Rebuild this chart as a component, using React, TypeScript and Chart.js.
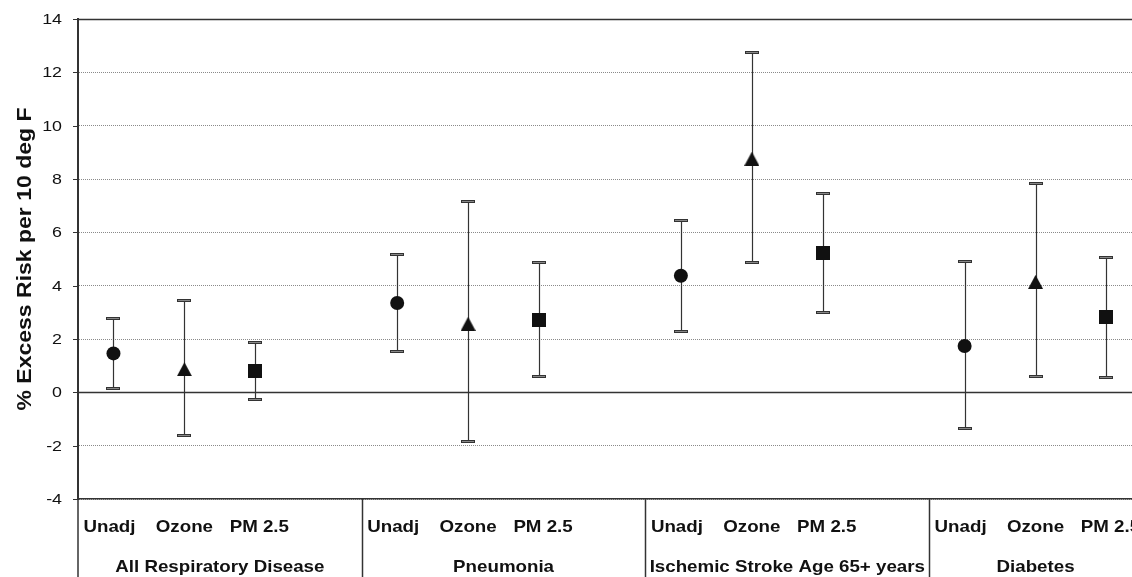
import React, { useEffect, useRef } from 'react';
import { Chart, registerables } from 'chart.js';

Chart.register(...registerables);

// ---------- data ----------
const categories = ['All Respiratory Disease', 'Pneumonia', 'Ischemic Stroke Age 65+ years', 'Diabetes'];
const adjustments = ['Unadj', 'Ozone', 'PM 2.5'];

const unadjEst = [1.46, 3.35, 4.37, 1.74];
const unadjLow = [0.15, 1.54, 2.31, -1.33];
const unadjHigh = [2.79, 5.2, 6.46, 4.93];

const ozoneEst = [0.87, 2.57, 8.76, 4.14];
const ozoneLow = [-1.59, -1.82, 4.88, 0.6];
const ozoneHigh = [3.47, 7.19, 12.75, 7.86];

const pmEst = [0.8, 2.73, 5.24, 2.81];
const pmLow = [-0.25, 0.6, 3.01, 0.57];
const pmHigh = [1.88, 4.89, 7.47, 5.09];

const yTicks = [-4, -2, 0, 2, 4, 6, 8, 10, 12, 14];
const yTitle = '% Excess Risk per 10 deg F';

const estimates = [unadjEst, ozoneEst, pmEst];
const lows = [unadjLow, ozoneLow, pmLow];
const highs = [unadjHigh, ozoneHigh, pmHigh];

// ---------- layout / style ----------
const W = 1132;
const H = 577;
const SLOTS_PER_GROUP = 4;
const AXIS_SLOTS = 15;
const VISIBLE_SLOTS = 14.86;
const FONT = '"Liberation Sans", Arial, Helvetica, sans-serif';
const TEXT_STRETCH = 1.15;
const INK = '#111';
const LINE = '#333';
const labelOffsets = [-4, 0, 4];

const slotX = (g: number, s: number) => g * SLOTS_PER_GROUP + s + 0.5;

function makeTriangle(): HTMLCanvasElement {
  const c = document.createElement('canvas');
  c.width = 15;
  c.height = 14;
  const x = c.getContext('2d')!;
  x.fillStyle = INK;
  x.beginPath();
  x.moveTo(7.5, 0);
  x.lineTo(15, 14);
  x.lineTo(0, 14);
  x.closePath();
  x.fill();
  return c;
}

function makeSquare(): HTMLCanvasElement {
  const c = document.createElement('canvas');
  c.width = 14;
  c.height = 14;
  const x = c.getContext('2d')!;
  x.fillStyle = INK;
  x.fillRect(0, 0, 14, 14);
  return c;
}

function drawText(
  ctx: CanvasRenderingContext2D,
  text: string,
  x: number,
  y: number,
  font: string,
  align: CanvasTextAlign,
  baseline: CanvasTextBaseline,
  rotate = false
) {
  ctx.save();
  ctx.translate(x, y);
  if (rotate) ctx.rotate(-Math.PI / 2);
  ctx.scale(TEXT_STRETCH, 1);
  ctx.font = font;
  ctx.fillStyle = INK;
  ctx.textAlign = align;
  ctx.textBaseline = baseline;
  ctx.fillText(text, 0, 0);
  ctx.restore();
}

const decorPlugin = {
  id: 'decor',
  beforeDatasetsDraw(chart: any) {
    const { ctx, chartArea, scales } = chart;
    const xs = scales.x;
    const ys = scales.y;
    ctx.save();
    ctx.strokeStyle = LINE;
    ctx.lineWidth = 1.5;
    [0, 14].forEach((v) => {
      const y = Math.round(ys.getPixelForValue(v)) + 0.5;
      ctx.beginPath();
      ctx.moveTo(chartArea.left, y);
      ctx.lineTo(chartArea.right, y);
      ctx.stroke();
    });
    for (let s = 0; s < adjustments.length; s++) {
      for (let g = 0; g < categories.length; g++) {
        const x = Math.round(xs.getPixelForValue(slotX(g, s))) + 0.5;
        const yl = ys.getPixelForValue(lows[s][g]);
        const yh = ys.getPixelForValue(highs[s][g]);
        ctx.strokeStyle = LINE;
        ctx.lineWidth = 1.2;
        ctx.beginPath();
        ctx.moveTo(x, yh);
        ctx.lineTo(x, yl);
        ctx.stroke();
        [yl, yh].forEach((yy) => {
          const r = Math.round(yy);
          ctx.fillStyle = '#333';
          ctx.fillRect(x - 7.5, r - 1, 14, 3);
          ctx.fillStyle = '#888';
          ctx.fillRect(x - 6.5, r, 12, 1);
        });
      }
    }
    ctx.restore();
  },
  afterDraw(chart: any) {
    const { ctx, chartArea, scales, height } = chart;
    const xs = scales.x;
    const ys = scales.y;
    ctx.save();
    ctx.strokeStyle = LINE;
    ctx.lineWidth = 1;
    ys.ticks.forEach((t: any) => {
      const y = Math.round(ys.getPixelForValue(t.value)) + 0.5;
      ctx.beginPath();
      ctx.moveTo(chartArea.left - 5, y);
      ctx.lineTo(chartArea.left, y);
      ctx.stroke();
      drawText(ctx, String(t.value), chartArea.left - 16, y, `15.5px ${FONT}`, 'right', 'middle');
    });
    ctx.strokeStyle = LINE;
    ctx.lineWidth = 1.5;
    for (let g = 0; g < categories.length; g++) {
      const x = Math.round(xs.getPixelForValue(g * SLOTS_PER_GROUP)) + (g === 0 ? 0 : 0.5);
      ctx.beginPath();
      ctx.moveTo(x, chartArea.bottom);
      ctx.lineTo(x, height);
      ctx.stroke();
    }
    for (let g = 0; g < categories.length; g++) {
      for (let s = 0; s < adjustments.length; s++) {
        const x = xs.getPixelForValue(slotX(g, s)) + labelOffsets[s];
        drawText(ctx, adjustments[s], x, chartArea.bottom + 33, `bold 16.3px ${FONT}`, 'center', 'alphabetic');
      }
      const start = g * SLOTS_PER_GROUP;
      const end = Math.min(start + SLOTS_PER_GROUP, AXIS_SLOTS);
      const cx = xs.getPixelForValue((start + end) / 2);
      drawText(ctx, categories[g], cx, chartArea.bottom + 73, `bold 16.3px ${FONT}`, 'center', 'alphabetic');
    }
    const cy = (chartArea.top + chartArea.bottom) / 2;
    drawText(ctx, yTitle, 25, cy, `bold 20px ${FONT}`, 'center', 'middle', true);
    ctx.restore();
  },
};

export default function App() {
  const ref = useRef<HTMLCanvasElement | null>(null);

  useEffect(() => {
    document.body.style.margin = '0';
    document.body.style.overflow = 'hidden';
    const canvas = ref.current;
    if (!canvas) return;
    const styles: any[] = ['circle', makeTriangle(), makeSquare()];
    const chart = new Chart(canvas, {
      type: 'scatter',
      data: {
        datasets: adjustments.map((name, s) => ({
          label: name,
          data: estimates[s].map((v, g) => ({ x: slotX(g, s), y: v })),
          pointStyle: styles[s],
          pointRadius: 7,
          pointHoverRadius: 7,
          backgroundColor: INK,
          borderColor: INK,
          borderWidth: 0,
        })),
      },
      options: {
        animation: false,
        responsive: false,
        devicePixelRatio: 1,
        layout: { padding: { top: 19, left: 0, right: 0, bottom: 0 }, autoPadding: false },
        plugins: { legend: { display: false }, tooltip: { enabled: false } },
        scales: {
          x: {
            type: 'linear',
            min: 0,
            max: VISIBLE_SLOTS,
            ticks: { display: false },
            grid: { display: false },
            border: { display: true, color: LINE, width: 1.5 },
            afterFit: (s: any) => {
              s.height = 78;
              s.paddingLeft = 0;
              s.paddingRight = 0;
            },
          },
          y: {
            type: 'linear',
            min: -4,
            max: 14,
            afterBuildTicks: (s: any) => {
              s.ticks = yTicks.map((v) => ({ value: v }));
            },
            ticks: { display: false },
            grid: { color: '#8a8a8a', lineWidth: 1, drawTicks: false },
            border: { display: true, color: LINE, width: 2, dash: [1, 1] },
            afterFit: (s: any) => {
              s.width = 78;
              s.paddingTop = 0;
              s.paddingBottom = 0;
            },
          },
        },
      } as any,
      plugins: [decorPlugin],
    });
    return () => chart.destroy();
  }, []);

  return (
    <div style={{ width: W, height: H, position: 'relative' }}>
      <canvas ref={ref} width={W} height={H} style={{ width: W, height: H, display: 'block' }} />
    </div>
  );
}
